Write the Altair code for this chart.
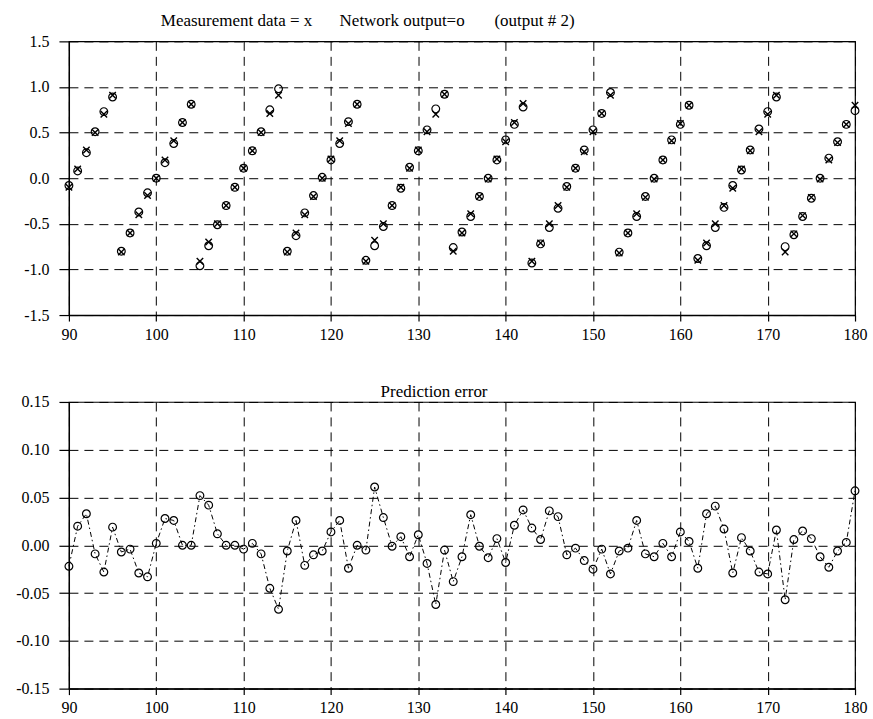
import altair as alt
import pandas as pd

# ---------------- data ----------------
steps = list(range(90, 181))

network_output = [
    -0.08, 0.08, 0.28, 0.51, 0.73, 0.89, -0.80, -0.60, -0.37, -0.16,
    0.00, 0.17, 0.38, 0.61, 0.81, -0.96, -0.74, -0.51, -0.30, -0.10,
    0.11, 0.30, 0.51, 0.75, 0.98, -0.80, -0.63, -0.38, -0.19, 0.01,
    0.20, 0.38, 0.62, 0.81, -0.90, -0.74, -0.53, -0.30, -0.11, 0.12,
    0.30, 0.53, 0.76, 0.92, -0.76, -0.59, -0.42, -0.20, 0.00, 0.20,
    0.42, 0.59, 0.78, -0.93, -0.72, -0.54, -0.33, -0.09, 0.11, 0.31,
    0.53, 0.71, 0.94, -0.81, -0.60, -0.42, -0.20, 0.00, 0.20, 0.42,
    0.59, 0.80, -0.88, -0.74, -0.54, -0.32, -0.08, 0.09, 0.31, 0.54,
    0.73, 0.89, -0.75, -0.62, -0.42, -0.22, 0.00, 0.22, 0.40, 0.59,
    0.74,
]

measurement = [
    -0.10, 0.10, 0.31, 0.50, 0.70, 0.91, -0.81, -0.60, -0.40, -0.19,
    0.00, 0.20, 0.41, 0.61, 0.81, -0.91, -0.70, -0.50, -0.30, -0.10,
    0.11, 0.30, 0.50, 0.71, 0.91, -0.81, -0.60, -0.40, -0.20, 0.00,
    0.21, 0.41, 0.60, 0.81, -0.91, -0.68, -0.50, -0.30, -0.10, 0.11,
    0.31, 0.51, 0.70, 0.92, -0.80, -0.60, -0.39, -0.20, -0.01, 0.21,
    0.40, 0.61, 0.82, -0.91, -0.71, -0.50, -0.30, -0.10, 0.11, 0.29,
    0.51, 0.71, 0.91, -0.82, -0.60, -0.39, -0.21, -0.01, 0.20, 0.41,
    0.60, 0.80, -0.90, -0.71, -0.50, -0.30, -0.11, 0.10, 0.30, 0.51,
    0.70, 0.91, -0.81, -0.61, -0.41, -0.21, -0.01, 0.20, 0.39, 0.59,
    0.80,
]

prediction_error = [
    -0.022, 0.020, 0.033, -0.009, -0.028, 0.019, -0.007, -0.004, -0.029, -0.033,
    0.002, 0.028, 0.026, 0.000, 0.000, 0.052, 0.042, 0.012, 0.000, 0.000,
    -0.004, 0.002, -0.009, -0.045, -0.067, -0.006, 0.026, -0.021, -0.010, -0.006,
    0.014, 0.026, -0.024, 0.000, -0.005, 0.061, 0.029, -0.001, 0.009, -0.012,
    0.011, -0.019, -0.062, -0.005, -0.038, -0.012, 0.032, -0.001, -0.013, 0.007,
    -0.018, 0.021, 0.037, 0.018, 0.006, 0.036, 0.030, -0.010, -0.003, -0.016,
    -0.025, -0.004, -0.030, -0.006, -0.003, 0.026, -0.009, -0.012, 0.002, -0.012,
    0.014, 0.004, -0.024, 0.033, 0.041, 0.017, -0.029, 0.008, -0.006, -0.028,
    -0.030, 0.016, -0.057, 0.006, 0.015, 0.007, -0.012, -0.023, -0.006, 0.003,
    0.057,
]

x_ticks = [90, 100, 110, 120, 130, 140, 150, 160, 170, 180]
top_y_ticks = [-1.5, -1.0, -0.5, 0.0, 0.5, 1.0, 1.5]
err_y_ticks = [-0.15, -0.10, -0.05, 0.00, 0.05, 0.10, 0.15]

title_parts = ["Measurement data = x", "Network output=o", "(output # 2)"]
err_title = "Prediction error"

# ---------------- chart ----------------
FONT = "Liberation Serif"
MINUS = "\u2212"

df_top = pd.DataFrame({"step": steps, "measured": measurement, "output": network_output})
df_err = pd.DataFrame({"step": steps, "error": prediction_error})

x_scale = alt.Scale(domain=[90, 180], nice=False, zero=False)


def x_axis():
    return alt.Axis(
        values=x_ticks, title=None, format="d",
        tickSize=6, labelPadding=5, labelFlush=False,
        labelFont=FONT, labelFontSize=16, labelColor="black",
    )


def y_axis(values, fmt):
    return alt.Axis(
        values=values, title=None,
        labelExpr=f"replace(format(datum.value, '{fmt}'), '{MINUS}', '-')",
        tickSize=10, labelPadding=10, labelFlush=False,
        labelFont=FONT, labelFontSize=16, labelColor="black",
    )


base_top = alt.Chart(df_top)

out_pts = base_top.mark_point(
    shape="circle", filled=False, color="black", size=60, strokeWidth=1.2, opacity=1
).encode(
    x=alt.X("step:Q", scale=x_scale, axis=x_axis()),
    y=alt.Y("output:Q", scale=alt.Scale(domain=[-1.5, 1.5], nice=False), axis=y_axis(top_y_ticks, ".1f")),
)

meas_pts = base_top.mark_point(
    shape="M-1,-1L1,1M-1,1L1,-1", filled=False, color="black", size=42, strokeWidth=1.4, opacity=1
).encode(
    x=alt.X("step:Q", scale=x_scale, axis=x_axis()),
    y=alt.Y("measured:Q", axis=y_axis(top_y_ticks, ".1f")),
)

title_layers = []
for txt, px in zip(title_parts, [92, 271, 426]):
    title_layers.append(
        alt.Chart(pd.DataFrame({"t": [txt]})).mark_text(
            font=FONT, fontSize=17, color="black", align="left", baseline="middle"
        ).encode(text="t:N", x=alt.value(px), y=alt.value(-20))
    )

top = alt.layer(out_pts, meas_pts, *title_layers).properties(width=787, height=274)

base_err = alt.Chart(df_err)
err_line = base_err.mark_line(
    color="black", strokeWidth=1, strokeDash=[5, 3, 1.5, 3]
).encode(
    x=alt.X("step:Q", scale=x_scale, axis=x_axis()),
    y=alt.Y("error:Q", scale=alt.Scale(domain=[-0.15, 0.15], nice=False), axis=y_axis(err_y_ticks, ".2f")),
)
err_pts = base_err.mark_point(
    shape="circle", filled=False, color="black", size=60, strokeWidth=1.2, opacity=1
).encode(
    x=alt.X("step:Q", axis=x_axis()),
    y=alt.Y("error:Q", axis=y_axis(err_y_ticks, ".2f")),
)

err_title_layer = alt.Chart(pd.DataFrame({"t": [err_title]})).mark_text(
    font=FONT, fontSize=17, color="black", align="left", baseline="middle"
).encode(text="t:N", x=alt.value(312), y=alt.value(-10))

bottom = alt.layer(err_line, err_pts, err_title_layer).properties(width=787, height=287)

chart = alt.vconcat(top, bottom, spacing=39).properties(
    padding={"left": 15, "top": 11, "right": 5, "bottom": 0},
    background="white",
).configure(
    font=FONT
).configure_view(
    stroke="black", strokeWidth=1.2
).configure_axis(
    grid=True, gridDash=[9, 6], gridColor="black", gridWidth=1, gridOpacity=1,
    domain=True, domainColor="black", domainWidth=1.2,
    ticks=True, tickColor="black", tickWidth=1.2,
    labelFont=FONT, labelFontSize=16, labelColor="black", labelFlush=False,
)

chart.save("out.html", embed_options={"renderer": "svg", "actions": False})
